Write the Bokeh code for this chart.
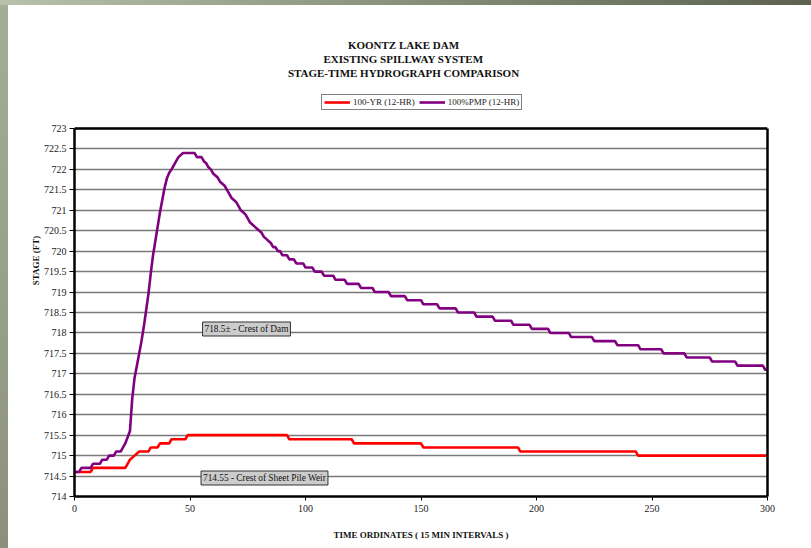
from bokeh.plotting import figure
from bokeh.models import Range1d, FixedTicker, Label, Legend, LegendItem, LinearAxis
from bokeh.embed import file_html
from bokeh.resources import INLINE

# ---------------- data ----------------
title_lines = ["KOONTZ LAKE DAM", "EXISTING SPILLWAY SYSTEM", "STAGE-TIME HYDROGRAPH COMPARISON"]
series_names = ["100-YR (12-HR)", "100%PMP (12-HR)"]
x_title = "TIME ORDINATES ( 15 MIN INTERVALS )"
y_title = "STAGE (FT)"
note_dam = "718.5\u00b1 - Crest of Dam"
note_weir = "714.55 - Crest of Sheet Pile Weir"

x_ticks = [0, 50, 100, 150, 200, 250, 300]
y_ticks = [714.0, 714.5, 715.0, 715.5, 716.0, 716.5, 717.0, 717.5, 718.0,
           718.5, 719.0, 719.5, 720.0, 720.5, 721.0, 721.5, 722.0, 722.5, 723.0]
y_tick_labels = ["714", "714.5", "715", "715.5", "716", "716.5", "717", "717.5", "718",
                 "718.5", "719", "719.5", "720", "720.5", "721", "721.5", "722", "722.5", "723"]

# 100-YR (12-HR) vertices
red_t = [0, 7, 8, 22, 23, 24, 26, 28, 32, 33, 36, 37, 41, 42, 48, 49,
         92, 93, 120, 121, 150, 151, 192, 193, 243, 244, 300]
red_v = [714.6, 714.6, 714.7, 714.7, 714.8, 714.9, 715.0, 715.1, 715.1, 715.2, 715.2, 715.3, 715.3, 715.4, 715.4, 715.5,
         715.5, 715.4, 715.4, 715.3, 715.3, 715.2, 715.2, 715.1, 715.1, 715.0, 715.0]

# 100%PMP (12-HR) rising limb and peak vertices
pmp_t = [0, 2, 3, 7, 8, 11, 12, 14, 15, 17, 18, 20, 21, 22, 23, 24, 25, 26, 27, 28, 29, 30,
         31, 32, 33, 34, 35, 36, 37, 38, 39, 40, 41, 42, 43, 44, 45, 46, 47, 52, 53, 55,
         56, 57, 58, 59, 60, 61, 62, 63, 64, 65, 66, 67, 68, 69, 70, 71, 72, 73, 74, 75,
         76, 77, 78, 79, 80, 81, 82, 83, 84, 85]
pmp_v = [714.6, 714.6, 714.7, 714.7, 714.8, 714.8, 714.9, 714.9, 715.0, 715.0, 715.1, 715.1,
         715.2, 715.3, 715.45, 715.6, 716.4, 716.9, 717.2, 717.5, 717.8, 718.15,
         718.55, 718.95, 719.45, 719.9, 720.25, 720.6, 720.95, 721.25, 721.55, 721.78, 721.92,
         722.0, 722.1, 722.2, 722.3, 722.35, 722.4, 722.4, 722.3, 722.3,
         722.2, 722.15, 722.05, 722.0, 721.9, 721.85, 721.8, 721.7, 721.65, 721.6, 721.5,
         721.4, 721.3, 721.25, 721.2, 721.1, 721.0, 720.95, 720.9, 720.8,
         720.7, 720.65, 720.6, 720.55, 720.5, 720.45, 720.35, 720.3, 720.25, 720.2]
# 100%PMP recession: ordinate at which each 0.1 ft stage level begins
pmp_step_t = [86, 88, 90, 93, 96, 100, 104, 108, 113, 118, 124, 130, 137, 144, 151, 158,
              166, 174, 182, 190, 198, 206, 215, 225, 235, 245, 255, 265, 276, 287, 299]
pmp_step_v = [720.1, 720.0, 719.9, 719.8, 719.7, 719.6, 719.5, 719.4, 719.3, 719.2, 719.1,
              719.0, 718.9, 718.8, 718.7, 718.6, 718.5, 718.4, 718.3, 718.2, 718.1, 718.0,
              717.9, 717.8, 717.7, 717.6, 717.5, 717.4, 717.3, 717.2, 717.1]

x_lo, x_hi = x_ticks[0], x_ticks[-1]
y_lo, y_hi = y_ticks[0], y_ticks[-1]

# build full PMP polyline (each level held until the next begins)
pmp_x = list(pmp_t)
pmp_y = list(pmp_v)
for i, (t0, lv) in enumerate(zip(pmp_step_t, pmp_step_v)):
    t1 = pmp_step_t[i + 1] - 1 if i + 1 < len(pmp_step_t) else x_hi
    pmp_x += [t0, t1]
    pmp_y += [lv, lv]

# ---------------- layout (page pixels) ----------------
W, H = 811, 548
FL, FR, FB = 74, 767, 496          # frame left / right / bottom
Y_HI_PX = 128                      # page y of the top stage gridline
FT = 24                            # frame top (titles and legend live inside the frame)
px_per_ft = (FB - Y_HI_PX) / (y_hi - y_lo)
px_per_t = (FR - FL) / (x_hi - x_lo)
y_top = y_hi + (Y_HI_PX - FT) / px_per_ft


def dx(px):
    return x_lo + (px - FL) / px_per_t


def dy(py):
    return y_lo + (FB - py) / px_per_ft


SERIF = "Liberation Serif"

p = figure(width=W, height=H, x_range=Range1d(x_lo, x_hi), y_range=Range1d(y_lo, y_top),
           output_backend="svg", toolbar_location=None,
           min_border_left=FL, min_border_right=W - FR, min_border_top=FT, min_border_bottom=H - FB)
p.background_fill_color = None
p.border_fill_color = None
p.outline_line_color = None

p.xgrid.visible = False
p.ygrid.grid_line_color = "#7a7a7a"
p.ygrid.grid_line_width = 1.3

p.xaxis.ticker = FixedTicker(ticks=x_ticks)
p.yaxis.ticker = FixedTicker(ticks=y_ticks)
p.yaxis.bounds = (y_lo, y_hi)
p.yaxis.major_label_overrides = {t: s for t, s in zip(y_ticks, y_tick_labels)}

for ax in (p.xaxis[0], p.yaxis[0]):
    ax.axis_line_color = "black"
    ax.axis_line_width = 2.5
    ax.major_tick_line_color = "black"
    ax.major_tick_line_width = 1
    ax.major_tick_in = 0
    ax.major_tick_out = 4
    ax.minor_tick_line_color = None
    ax.major_label_text_font = SERIF
    ax.major_label_text_font_size = "10px"
    ax.major_label_text_color = "#222222"
    ax.axis_label_text_font = SERIF
    ax.axis_label_text_font_style = "bold"
    ax.axis_label_text_font_size = "9px"
    ax.axis_label_text_color = "#111111"

p.xaxis.axis_label = x_title
p.yaxis.axis_label = y_title
p.xaxis.major_label_standoff = 4
p.yaxis.major_label_standoff = 3
p.yaxis.major_tick_out = 5
p.xaxis.axis_label_standoff = 15
p.yaxis.axis_label_standoff = 0

# right border of the plot box
right_ax = LinearAxis(ticker=FixedTicker(ticks=[]), bounds=(y_lo, y_hi),
                      axis_line_color="black", axis_line_width=2.5,
                      major_tick_line_color=None, minor_tick_line_color=None,
                      major_label_text_font_size="0px")
p.add_layout(right_ax, "right")

# top border of the plot box
p.line([x_lo, x_hi], [y_hi, y_hi], line_color="black", line_width=2.5)

r_red = p.line(red_t, red_v, line_color="#ff0000", line_width=2.6)
r_pmp = p.line(pmp_x, pmp_y, line_color="#800080", line_width=2.6)

# titles
for txt, py in zip(title_lines, (44, 58, 72)):
    p.add_layout(Label(x=dx(403), y=dy(py), text=txt, text_align="center", text_baseline="middle",
                       text_font=SERIF, text_font_style="bold", text_font_size="11px",
                       text_color="#111111"))

legend = Legend(items=[LegendItem(label=series_names[0], renderers=[r_red]),
                       LegendItem(label=series_names[1], renderers=[r_pmp])],
                orientation="horizontal", location=(321 - FL, FB - 110),
                glyph_width=26, glyph_height=10, label_height=10, label_standoff=3,
                spacing=4, padding=2, margin=0,
                label_text_font=SERIF, label_text_font_size="9px", label_text_color="#222222",
                border_line_color="black", border_line_width=1, background_fill_color="white")
p.add_layout(legend)

for txt, px, py in ((note_dam, 246, 328.5), (note_weir, 264, 477.5)):
    p.add_layout(Label(x=dx(px), y=dy(py), text=txt, text_align="center", text_baseline="middle",
                       text_font=SERIF, text_font_size="9.3px", text_color="#111111",
                       background_fill_color="#cccccc", border_line_color="#333333",
                       border_line_width=1, padding=2))

html = file_html(p, INLINE, title="Koontz Lake Dam")
css = ("<style>html{height:100%;background:"
       "linear-gradient(to right,#b8c1aa,#8d957e 45%,#5c624e) top left/100% 5px no-repeat,"
       "linear-gradient(to bottom,#a5ad95,#979e88 60%,#8a907c) top left/8px 100% no-repeat,"
       "#ffffff;}</style>")
html = html.replace("</head>", css + "</head>", 1)
open("out.html", "w").write(html)
